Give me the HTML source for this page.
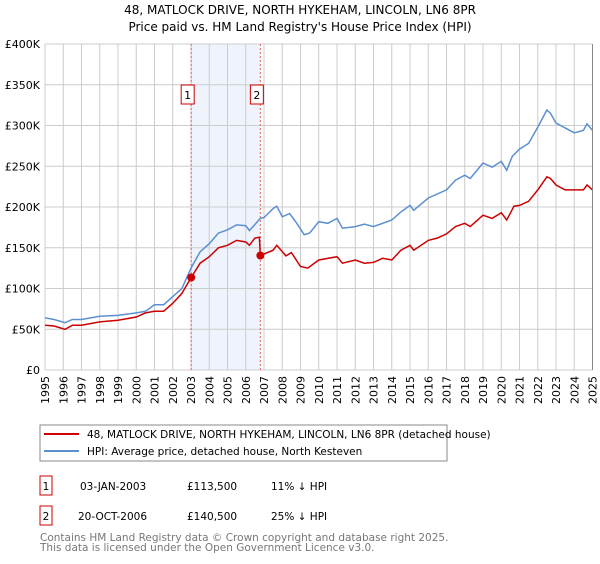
<!DOCTYPE html>
<html><head><meta charset="utf-8"><style>
body{margin:0;background:#fff;font-family:"DejaVu Sans","Liberation Sans",sans-serif;}
svg text{font-family:"DejaVu Sans","Liberation Sans",sans-serif;}
</style></head><body>
<svg id="chart" width="600" height="560" viewBox="0 0 600 560">
<text x="300" y="14" text-anchor="middle" font-size="12">48, MATLOCK DRIVE, NORTH HYKEHAM, LINCOLN, LN6 8PR</text>
<text x="300" y="31" text-anchor="middle" font-size="12">Price paid vs. HM Land Registry's House Price Index (HPI)</text>
<g id="plot"></g>
<rect x="40" y="425" width="407" height="36" fill="#fff" stroke="#888"/>
<line x1="44" y1="434" x2="79" y2="434" stroke="#cc0000" stroke-width="2"/>
<text x="87" y="438" font-size="10.5">48, MATLOCK DRIVE, NORTH HYKEHAM, LINCOLN, LN6 8PR (detached house)</text>
<line x1="44" y1="451" x2="79" y2="451" stroke="#5b8fd0" stroke-width="2"/>
<text x="87" y="455" font-size="10.5">HPI: Average price, detached house, North Kesteven</text>
<g>
<rect x="40" y="476" width="12" height="19" fill="#fff" stroke="#cc0000"/>
<text x="46" y="490" font-size="10.5" text-anchor="middle">1</text>
<text x="80" y="490" font-size="10.5">03-JAN-2003</text>
<text x="187" y="490" font-size="10.5">£113,500</text>
<text x="271" y="490" font-size="10.5">11% ↓ HPI</text>
</g>
<g>
<rect x="40" y="506" width="12" height="19" fill="#fff" stroke="#cc0000"/>
<text x="46" y="520" font-size="10.5" text-anchor="middle">2</text>
<text x="78" y="520" font-size="10.5">20-OCT-2006</text>
<text x="187" y="520" font-size="10.5">£140,500</text>
<text x="271" y="520" font-size="10.5">25% ↓ HPI</text>
</g>
<text x="40" y="541" font-size="10.5" fill="#777">Contains HM Land Registry data © Crown copyright and database right 2025.</text>
<text x="40" y="551" font-size="10.5" fill="#777">This data is licensed under the Open Government Licence v3.0.</text>
</svg>
<script>
const yearTicks=[1995,1996,1997,1998,1999,2000,2001,2002,2003,2004,2005,2006,2007,2008,2009,2010,2011,2012,2013,2014,2015,2016,2017,2018,2019,2020,2021,2022,2023,2024,2025];
const valueTicks=[0,50,100,150,200,250,300,350,400];
const valueTickLabels=["£0","£50K","£100K","£150K","£200K","£250K","£300K","£350K","£400K"];
const hpiDates=[1995,1995.5,1996.1,1996.5,1997,1998,1999,2000,2000.5,2001,2001.5,2002,2002.5,2003,2003.5,2004,2004.5,2005,2005.5,2006,2006.2,2006.8,2007,2007.5,2007.7,2008,2008.4,2008.8,2009.2,2009.5,2010,2010.5,2011,2011.3,2012,2012.5,2013,2014,2014.5,2015,2015.2,2016,2017,2017.5,2018,2018.3,2019,2019.5,2020,2020.3,2020.6,2021,2021.5,2022,2022.5,2022.7,2023,2023.5,2024,2024.5,2024.7,2025];
const hpiValues=[64,62,58,62,62,66,67,70,72,80,80,90,100,125,145,155,168,172,178,177,171,186,187,198,201,188,192,180,166,168,182,180,186,174,176,179,176,184,194,202,196,211,221,233,239,235,254,249,256,245,262,271,278,298,319,315,303,297,291,294,302,294];
const propDates=[1995,1995.5,1996.1,1996.5,1997,1998,1999,2000,2000.5,2001,2001.5,2002,2002.5,2003.01,2003.5,2004,2004.5,2005,2005.5,2006,2006.2,2006.5,2006.75,2006.8,2007.5,2007.7,2008.2,2008.5,2009,2009.4,2010,2011,2011.3,2012,2012.5,2013,2013.5,2014,2014.5,2015,2015.2,2016,2016.5,2017,2017.5,2018,2018.3,2019,2019.5,2020,2020.3,2020.7,2021,2021.5,2022,2022.5,2022.7,2023,2023.5,2024,2024.5,2024.7,2025];
const propValues=[55,54,50,55,55,59,61,65,70,72,72,82,94,113.5,131,139,150,153,159,157,153,162,163,140.5,147,153,140,144,127,125,135,139,131,135,131,132,137,135,147,153,147,159,162,167,176,180,176,190,186,193,184,201,202,207,221,237,235,227,221,221,221,227,221];
const saleDates=[2003.01,2006.8];
const saleValues=[113.5,140.5];
const saleLabels=["1","2"];

const X0=45,X1=592.5,Y0=370,Y1=44;
const xs=d=>X0+(d-1995)/30*(X1-X0);
const ys=v=>Y0-v/400*(Y0-Y1);
const NS="http://www.w3.org/2000/svg";
const plot=document.getElementById('plot');
function mk(tag,attrs,parent){const e=document.createElementNS(NS,tag);for(const k in attrs)e.setAttribute(k,attrs[k]);(parent||plot).appendChild(e);return e;}

const shade=mk('rect',{x:xs(saleDates[0]),y:Y1,width:xs(saleDates[1])-xs(saleDates[0]),height:Y0-Y1,fill:'#eef3fc'});



yearTicks.forEach(y=>{
  const l=mk('line',{x1:xs(y),x2:xs(y),y1:Y1,y2:Y0,stroke:'#cccccc','stroke-width':1});
  
  
  const t=mk('text',{x:0,y:0,'font-size':11,'text-anchor':'end',transform:`translate(${xs(y)+4},${Y0+6}) rotate(-90)`});
  t.textContent=y;
  
  
});
valueTicks.forEach((v,i)=>{
  const l=mk('line',{x1:X0,x2:X1,y1:ys(v),y2:ys(v),stroke:'#cccccc','stroke-width':1});
  
  
  const t=mk('text',{x:X0-5,y:ys(v)+4,'font-size':11,'text-anchor':'end'});
  t.textContent=valueTickLabels[i];
  
  
});

saleDates.forEach((d,i)=>{
  const l=mk('line',{x1:xs(d),x2:xs(d),y1:Y1,y2:Y0,stroke:'#e06060','stroke-width':1,'stroke-dasharray':'2,2'});
  
  
  const b=mk('rect',{x:xs(d)-7-3,y:85,width:13,height:19,fill:'#fff',stroke:'#cc0000'});
  
  
  const t=mk('text',{x:xs(d)-3.5,y:99,'font-size':11,'text-anchor':'middle'});
  t.textContent=saleLabels[i];
  
  
});

function path(ds,vs){return ds.map((d,i)=>(i?'L':'M')+xs(d).toFixed(1)+','+ys(vs[i]).toFixed(1)).join(' ');}
const hpi=mk('path',{d:path(hpiDates,hpiValues),fill:'none',stroke:'#5b8fd0','stroke-width':1.5});


const prop=mk('path',{d:path(propDates,propValues),fill:'none',stroke:'#cc0000','stroke-width':1.5});


saleDates.forEach((d,i)=>{
  const c=mk('circle',{cx:xs(d),cy:ys(saleValues[i]),r:4,fill:'#cc0000'});
  
  
});
const ax=mk('line',{x1:X1,x2:X1,y1:Y1,y2:Y0,stroke:'#888','stroke-width':1});


</script>
</body></html>
